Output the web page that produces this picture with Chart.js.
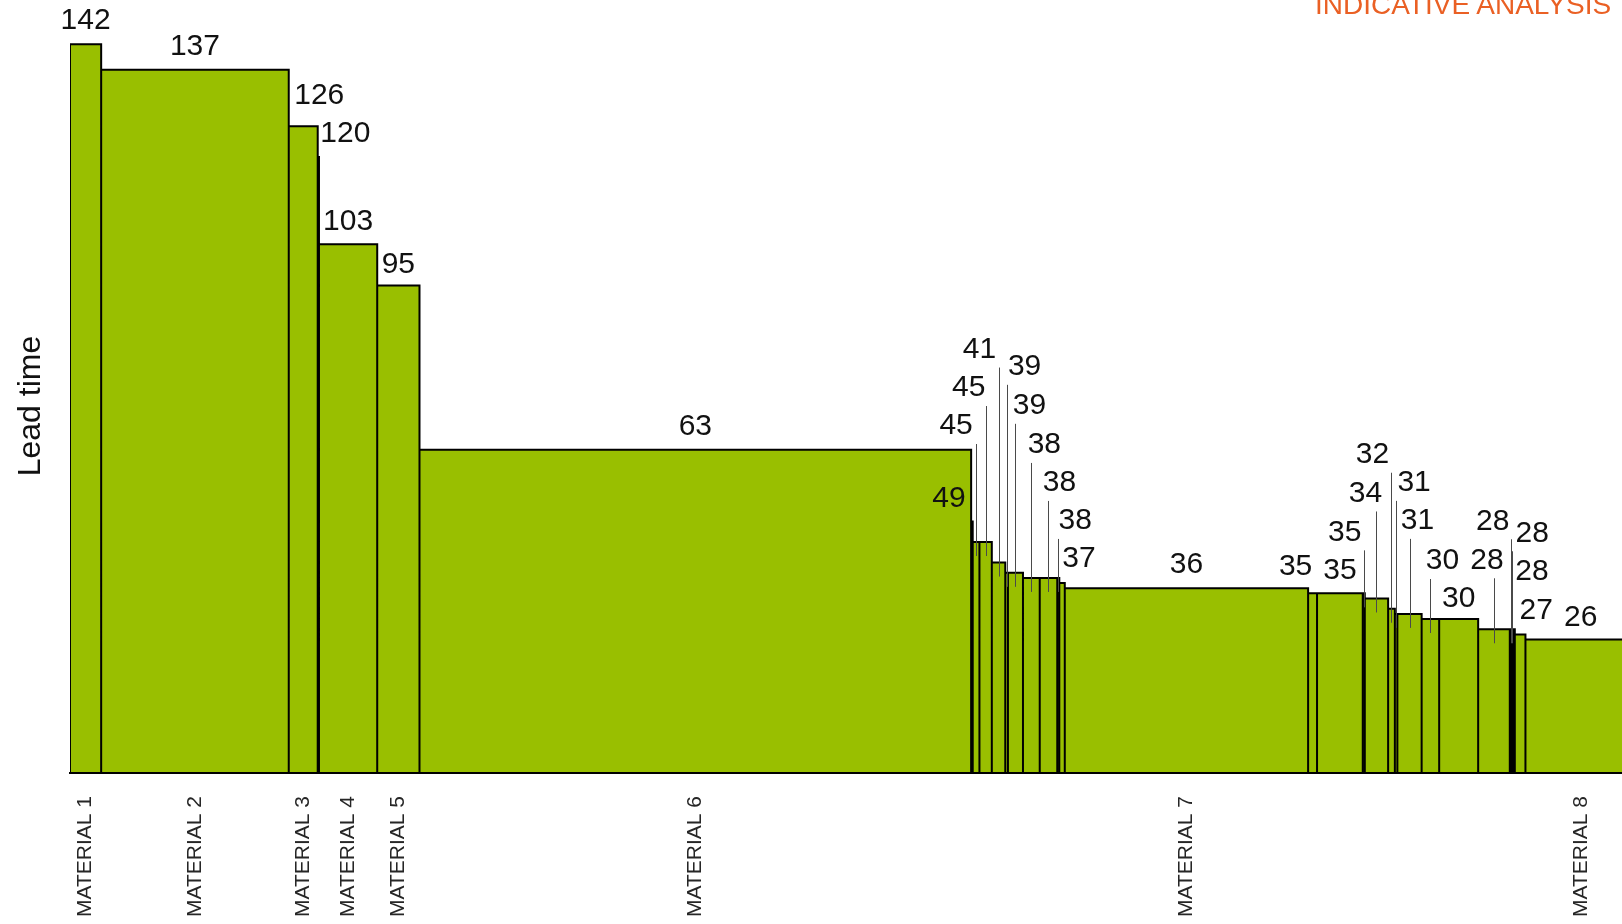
<!DOCTYPE html>
<html>
<head>
<meta charset="utf-8">
<title>Lead time by material</title>
<script src="https://cdn.jsdelivr.net/npm/chart.js@4/dist/chart.umd.min.js"></script>
<style>
  html, body { margin: 0; padding: 0; background: #fff; overflow: hidden; }
  #wrap { position: relative; width: 1640px; height: 924px; }
  #stamp {
    position: absolute; top: -9px; left: 1315px;
    font: 28px/27px "Liberation Sans", Arial, sans-serif;
    color: #ea6024; white-space: nowrap;
  }
</style>
</head>
<body>
<div id="wrap">
  <canvas id="leadChart"></canvas>
  <div id="stamp">INDICATIVE ANALYSIS</div>
</div>
<script>
"use strict";

// lead time per material, sorted high to low
const leadTime = [142, 137, 126, 120, 103, 95, 63, 49, 45, 45, 41, 39, 39, 38, 38, 38, 37,
  36, 35, 35, 35, 34, 32, 31, 31, 30, 30, 28, 28, 28, 28, 27, 26];

// share of total volume (%) -> bar width
const volumeShare = [1.99, 11.98, 1.85, 0.08, 3.72, 2.70, 35.23, 0.10, 0.43, 0.79, 0.86, 0.17, 0.96, 1.07, 1.12, 0.13, 0.35,
  15.54, 0.57, 2.92, 0.13, 1.49, 0.43, 0.16, 1.55, 1.12, 2.49, 2.02, 0.11, 0.10, 0.11, 0.68, 7.06];

// only the big ones get a name on the axis
const materialNames = ['MATERIAL 1', 'MATERIAL 2', 'MATERIAL 3', '', 'MATERIAL 4', 'MATERIAL 5', 'MATERIAL 6',
  '', '', '', '', '', '', '', '', '', '', 'MATERIAL 7', '', '', '', '', '', '', '', '', '', '', '', '', '', '', 'MATERIAL 8'];

// value label placement: offset from bar centre / bar top, and whether a pointer line is needed
const labelDx = [0, 0, 16, 27, 0, 0, 0, -23, -20, -17, -19, 18, 14, 13, 11, 17, 17,
  0, -17, 0, -19, -11, -19, 18, 8, 12, 0, -7, -18, 20, 18, 16, 0];
const labelDy = [-23, -23, -31, -23, -23, -21, -23, -23, -116, -154, -213, -206, -167, -133, -95, -57, -24,
  -23, -27, -23, -61, -105, -154, -131, -93, -58, -20, -69, -108, -96, -58, -24, -22];
const leader = [0, 0, 0, 0, 0, 0, 0, 0, 1, 1, 1, 1, 1, 1, 1, 1, 0,
  0, 0, 0, 1, 1, 1, 1, 1, 1, 0, 1, 1, 1, 0, 0, 0];

// bar edges on the x axis
const starts = [];
let acc = 0;
volumeShare.forEach(function (w) { starts.push(acc); acc += w; });
const total = acc;

// one outline running up, across and down each bar, filled to zero
const outline = [];
leadTime.forEach(function (v, i) {
  const x0 = starts[i], x1 = starts[i] + volumeShare[i];
  outline.push({x: x0, y: 0}, {x: x0, y: v}, {x: x1, y: v}, {x: x1, y: 0});
});

const FONT = '"Liberation Sans", Arial, sans-serif';

const valueLabels = {
  id: 'valueLabels',
  afterDatasetsDraw: function (chart) {
    const ctx = chart.ctx;
    const xs = chart.scales.x, ys = chart.scales.y;
    ctx.save();
    // pointer lines first so the numbers sit on top
    ctx.strokeStyle = '#4a4a4a';
    ctx.lineWidth = 1;
    leadTime.forEach(function (v, i) {
      if (!leader[i]) return;
      const cx = Math.round(xs.getPixelForValue(starts[i] + volumeShare[i] / 2)) + 0.5;
      const top = ys.getPixelForValue(v);
      ctx.beginPath();
      ctx.moveTo(cx, top + labelDy[i] + 18);
      ctx.lineTo(cx, top + 14);
      ctx.stroke();
    });
    ctx.fillStyle = '#111';
    ctx.font = '30px ' + FONT;
    ctx.textAlign = 'center';
    ctx.textBaseline = 'middle';
    leadTime.forEach(function (v, i) {
      const cx = xs.getPixelForValue(starts[i] + volumeShare[i] / 2);
      const top = ys.getPixelForValue(v);
      ctx.fillText(String(v), cx + labelDx[i], top + labelDy[i]);
    });
    ctx.restore();
  }
};

const ctx = document.getElementById('leadChart');
const leadChart = new Chart(ctx, {
  type: 'scatter',
  data: {
    datasets: [{
      data: outline,
      showLine: true,
      fill: 'origin',
      backgroundColor: '#99bf00',
      borderColor: '#000',
      borderWidth: 2,
      borderJoinStyle: 'miter',
      pointRadius: 0,
      pointHoverRadius: 0,
      tension: 0
    }]
  },
  options: {
    responsive: true,
    maintainAspectRatio: false,
    animation: false,
    events: [],
    layout: {padding: {top: 39, right: 4, left: 0, bottom: 0}},
    plugins: {
      legend: {display: false},
      tooltip: {enabled: false}
    },
    scales: {
      x: {
        type: 'linear',
        min: 0,
        max: total,
        grid: {display: false, drawTicks: false},
        border: {display: true, color: '#000', width: 2, z: 1},
        ticks: {
          autoSkip: false,
          minRotation: 90,
          maxRotation: 90,
          padding: 23,
          color: '#262626',
          font: {family: FONT, size: 21},
          callback: function (val, i, ticks) { return ticks[i].name; }
        },
        afterBuildTicks: function (scale) {
          const t = [];
          materialNames.forEach(function (name, i) {
            if (name) t.push({value: starts[i] + volumeShare[i] / 2, name: name});
          });
          scale.ticks = t;
        },
        afterFit: function (scale) { scale.height = 151; }
      },
      y: {
        type: 'linear',
        min: 0,
        max: 143,
        grid: {display: false},
        border: {display: false},
        ticks: {display: false},
        title: {
          display: true,
          text: 'Lead time',
          color: '#111',
          font: {family: FONT, size: 32},
          padding: {top: 12, bottom: 0}
        },
        afterFit: function (scale) { scale.width = 70; }
      }
    }
  },
  plugins: [valueLabels]
});
</script>
</body>
</html>
